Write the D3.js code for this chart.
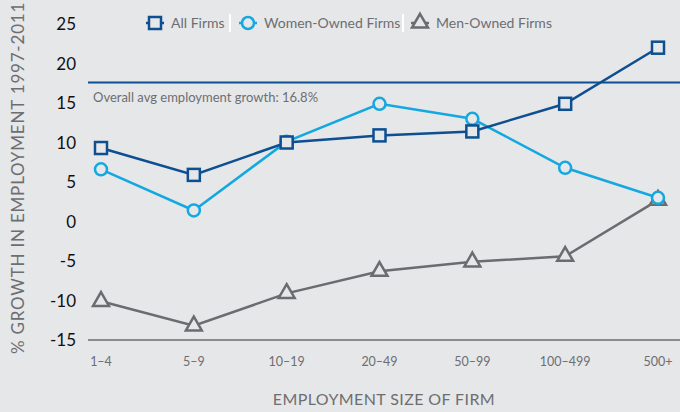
<!DOCTYPE html>
<html><head><meta charset="utf-8">
<script src="https://cdn.jsdelivr.net/npm/d3@7"></script>
<style>
html,body{margin:0;padding:0;background:#e6e7e9;}
svg{display:block;font-family:Lato,"Open Sans",sans-serif;}
</style></head>
<body>
<svg id="c" width="680" height="412"></svg>
<script>
const categories = ["1–4","5–9","10–19","20–49","50–99","100–499","500+"];
const allFirms   = [9.3, 5.9, 10.0, 10.9, 11.4, 14.9, 22.0];
const womenOwned = [6.6, 1.4, 10.1, 14.9, 13.0, 6.8, 3.0];
const menOwned   = [-10.1, -13.2, -9.1, -6.3, -5.1, -4.4, 2.7];
const yTicks     = [25, 20, 15, 10, 5, 0, -5, -10, -15];
const avgValue   = 17.6;
const avgLabel   = "Overall avg employment growth: 16.8%";
const seriesNames = ["All Firms","Women-Owned Firms","Men-Owned Firms"];

const svg = d3.select("#c");
const bg = "#e6e7e9";
const colors = ["#0d4f90","#13a8e0","#6b6c70"];
const x = d3.scalePoint().domain(categories).range([101, 658]);
const y = d3.scaleLinear().domain([-15, 25]).range([340, 24]);

// y tick labels
svg.append("g").selectAll("text").data(yTicks).join("text")
  .attr("x", 76).attr("y", d => y(d)).attr("dy", "0.36em")
  .attr("text-anchor", "end").attr("font-size", 17).attr("fill", "#111")
  .text(d => d);

// baseline
svg.append("line").attr("x1", 88).attr("x2", 680).attr("y1", y(-15)).attr("y2", y(-15))
  .attr("stroke", "#8b8c8e").attr("stroke-width", 2);

// x tick labels
svg.append("g").selectAll("text").data(categories).join("text")
  .attr("x", d => x(d)).attr("y", 366).attr("text-anchor", "middle")
  .attr("font-size", 12.5).attr("fill", "#6d6e71").text(d => d);

// axis titles
svg.append("text").attr("x", 384).attr("y", 405).attr("text-anchor", "middle")
  .attr("font-size", 16).attr("letter-spacing", 0.4).attr("fill", "#6d6e71").text("EMPLOYMENT SIZE OF FIRM");
svg.append("text").attr("transform", "translate(24,178) rotate(-90)").attr("text-anchor", "middle")
  .attr("font-size", 17).attr("letter-spacing", 0.8).attr("fill", "#6d6e71").text("% GROWTH IN EMPLOYMENT 1997-2011");

// average line
svg.append("line").attr("x1", 88).attr("x2", 680).attr("y1", y(avgValue)).attr("y2", y(avgValue))
  .attr("stroke", colors[0]).attr("stroke-width", 2);
svg.append("text").attr("x", 93).attr("y", y(avgValue) + 20).attr("font-size", 13)
  .attr("fill", "#6d6e71").text(avgLabel);

const line = d3.line().x((d, i) => x(categories[i])).y(d => y(d));
const data = [allFirms, womenOwned, menOwned];

function marker(g, type, color, cx, cy) {
  if (type === 0) {
    g.append("rect").attr("x", cx - 6).attr("y", cy - 6).attr("width", 12).attr("height", 12)
      .attr("fill", bg).attr("stroke", color).attr("stroke-width", 2.5);
  } else if (type === 1) {
    g.append("circle").attr("cx", cx).attr("cy", cy).attr("r", 6)
      .attr("fill", bg).attr("stroke", color).attr("stroke-width", 2.5);
  } else {
    const sym = d3.symbol().type(d3.symbolTriangle).size(110);
    g.append("path").attr("d", sym()).attr("transform", `translate(${cx},${cy})`)
      .attr("fill", bg).attr("stroke", color).attr("stroke-width", 2.5);
  }
}

// draw men first, then women, then all
[2, 1, 0].forEach(k => {
  const g = svg.append("g");
  g.append("path").attr("d", line(data[k])).attr("fill", "none")
    .attr("stroke", colors[k]).attr("stroke-width", 2.5);
  data[k].forEach((v, i) => marker(g, k, colors[k], x(categories[i]), y(v)));
});

// legend
const legend = svg.append("g");
const legX = [155, 248, 420];
const sepX = [230, 403];
seriesNames.forEach((name, k) => {
  const cy = 23;
  legend.append("line").attr("x1", legX[k] - 9).attr("x2", legX[k] + 9).attr("y1", cy).attr("y2", cy)
    .attr("stroke", colors[k]).attr("stroke-width", 2.5);
  marker(legend, k, colors[k], legX[k], cy);
  legend.append("text").attr("x", legX[k] + 16).attr("y", cy).attr("dy", "0.36em")
    .attr("font-size", 14).attr("fill", "#6d6e71").text(name);
});
sepX.forEach(sx => legend.append("line").attr("x1", sx).attr("x2", sx).attr("y1", 14).attr("y2", 32)
  .attr("stroke", "#ffffff").attr("stroke-width", 2));
</script>
</body></html>
